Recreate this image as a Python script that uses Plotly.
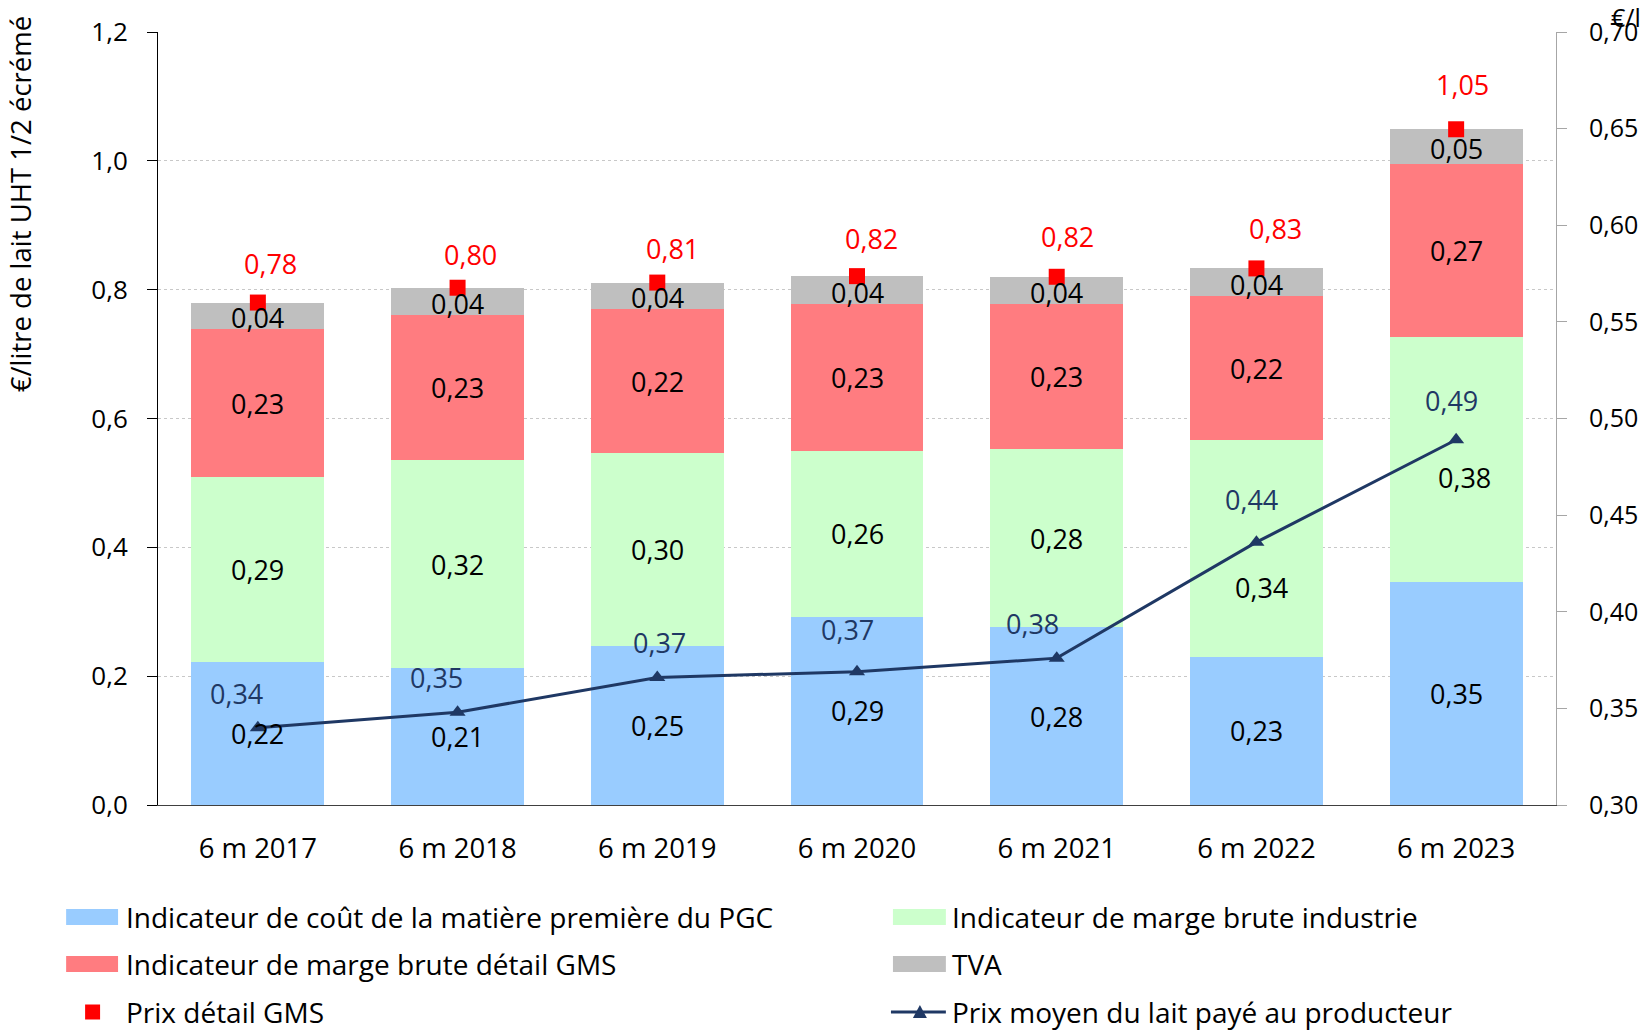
import plotly.graph_objects as go

# Periods (first six months of each year)
categories = ["6 m 2017", "6 m 2018", "6 m 2019", "6 m 2020", "6 m 2021", "6 m 2022", "6 m 2023"]

# Price decomposition, €/litre of semi-skimmed UHT milk
cout_matiere = [0.222, 0.213, 0.247, 0.292, 0.276, 0.230, 0.346]
marge_industrie = [0.287, 0.322, 0.299, 0.258, 0.276, 0.336, 0.380]
marge_gms = [0.230, 0.226, 0.224, 0.227, 0.226, 0.224, 0.269]
tva = [0.041, 0.042, 0.041, 0.044, 0.042, 0.043, 0.054]

# Average milk price paid to producers, €/l (right axis)
prix_producteur = [0.340, 0.348, 0.366, 0.369, 0.376, 0.436, 0.489]

left_ticks = [0.0, 0.2, 0.4, 0.6, 0.8, 1.0, 1.2]
right_ticks = [0.30, 0.35, 0.40, 0.45, 0.50, 0.55, 0.60, 0.65, 0.70]

# Retail price = sum of the components
prix_detail = [round(a + b + c + d, 3) for a, b, c, d in zip(cout_matiere, marge_industrie, marge_gms, tva)]

FONT = "Open Sans"
C_BLUE = "#99CCFF"
C_GREEN = "#CCFFCC"
C_RED = "#FF7C80"
C_GREY = "#BFBFBF"
C_NAVY = "#1F3864"
C_PRICE = "#FF0000"

W, H = 1650, 1031
ML, MR, MT, MB = 158, 92, 32, 226
PW, PH = W - ML - MR, H - MT - MB


def px_x(px):
    return (px - ML) / PW


def px_y(py):
    return (H - MB - py) / PH


def fmt(v, d=2):
    return f"{v:.{d}f}".replace(".", ",")


fig = go.Figure()

series = [
    ("Indicateur de coût de la matière première du PGC", cout_matiere, C_BLUE),
    ("Indicateur de marge brute industrie", marge_industrie, C_GREEN),
    ("Indicateur de marge brute détail GMS", marge_gms, C_RED),
    ("TVA", tva, C_GREY),
]
for name, vals, col in series:
    fig.add_trace(go.Bar(x=categories, y=vals, name=name, marker=dict(color=col, line=dict(width=0)),
                         showlegend=False, hoverinfo="skip"))

fig.add_trace(go.Scatter(x=categories, y=prix_detail, mode="markers", name="Prix détail GMS",
                         marker=dict(symbol="square", size=16, color=C_PRICE), showlegend=False))

fig.add_trace(go.Scatter(x=categories, y=prix_producteur, yaxis="y2", mode="lines+markers",
                         name="Prix moyen du lait payé au producteur",
                         line=dict(color=C_NAVY, width=3),
                         marker=dict(symbol="triangle-up", size=14, color=C_NAVY), showlegend=False))

annotations = []

# Segment value labels (centred in each segment, a few nudged to stay readable)
seg_shift = {(1, 5): (5, -39), (1, 6): (8, -18)}
base = [0.0] * len(categories)
for si, (name, vals, col) in enumerate(series):
    for i, v in enumerate(vals):
        dx, dy = seg_shift.get((si, i), (0, -2 if si == 3 else 0))
        annotations.append(dict(x=categories[i], y=base[i] + v / 2, xref="x", yref="y", text=fmt(v),
                                showarrow=False, xshift=dx, yshift=dy,
                                font=dict(family=FONT, size=27, color="#000000")))
        base[i] += v

# Retail price labels
tot_dx = [13, 13, 15, 14, 11, 19, 6]
tot_dy = [39, 33, 34, 38, 40, 40, 45]
for i, v in enumerate(prix_detail):
    annotations.append(dict(x=categories[i], y=v, xref="x", yref="y", text=fmt(v), showarrow=False,
                            xshift=tot_dx[i], yshift=tot_dy[i],
                            font=dict(family=FONT, size=27, color=C_PRICE)))

# Producer price labels
prod_dx = [-21, -21, 2, -10, -24, -5, -5]
prod_dy = [34, 35, 35, 42, 35, 43, 39]
for i, v in enumerate(prix_producteur):
    annotations.append(dict(x=categories[i], y=v, xref="x", yref="y2", text=fmt(v), showarrow=False,
                            xshift=prod_dx[i], yshift=prod_dy[i],
                            font=dict(family=FONT, size=27, color=C_NAVY)))

# Axis titles
annotations.append(dict(x=px_x(21), y=px_y(14), xref="paper", yref="paper", xanchor="center", yanchor="top",
                        text="€/litre de lait UHT 1/2 écrémé", textangle=-90, showarrow=False,
                        font=dict(family=FONT, size=27.5, color="#000000")))
annotations.append(dict(x=px_x(1628), y=px_y(17), xref="paper", yref="paper", xanchor="center", yanchor="middle",
                        text="€/l", showarrow=False, font=dict(family=FONT, size=25, color="#000000")))

# Custom legend
shapes = []
leg_rows = [917, 964, 1012]
col1_sw, col1_tx = (66, 118), 124
col2_sw, col2_tx = (894, 947), 951
leg_font = dict(family=FONT, size=28, color="#000000")


def swatch(x0, x1, yc, color):
    shapes.append(dict(type="rect", xref="paper", yref="paper", x0=px_x(x0), x1=px_x(x1),
                       y0=px_y(yc + 8), y1=px_y(yc - 8), fillcolor=color, line=dict(width=0)))


def leg_text(x, yc, text):
    annotations.append(dict(x=px_x(x), y=px_y(yc), xref="paper", yref="paper", xanchor="left",
                            yanchor="middle", text=text, showarrow=False, font=leg_font))


swatch(*col1_sw, leg_rows[0], C_BLUE)
leg_text(col1_tx, leg_rows[0], series[0][0])
swatch(*col2_sw, leg_rows[0], C_GREEN)
leg_text(col2_tx, leg_rows[0], series[1][0])
swatch(*col1_sw, leg_rows[1], C_RED)
leg_text(col1_tx, leg_rows[1], series[2][0])
swatch(*col2_sw, leg_rows[1], C_GREY)
leg_text(col2_tx, leg_rows[1], series[3][0])

# Square marker entry
shapes.append(dict(type="rect", xref="paper", yref="paper", x0=px_x(85), x1=px_x(100),
                   y0=px_y(1019.5), y1=px_y(1004.5), fillcolor=C_PRICE, line=dict(width=0)))
leg_text(col1_tx, leg_rows[2], "Prix détail GMS")

# Line + triangle entry
shapes.append(dict(type="line", xref="paper", yref="paper", x0=px_x(892), x1=px_x(947),
                   y0=px_y(leg_rows[2]), y1=px_y(leg_rows[2]), line=dict(color=C_NAVY, width=3)))
tx, ty = 921, leg_rows[2]
shapes.append(dict(type="path", xref="paper", yref="paper",
                   path=f"M {px_x(tx - 7)} {px_y(ty + 6)} L {px_x(tx + 7)} {px_y(ty + 6)} L {px_x(tx)} {px_y(ty - 7)} Z",
                   fillcolor=C_NAVY, line=dict(width=0)))
leg_text(col2_tx, leg_rows[2], "Prix moyen du lait payé au producteur")

fig.update_layout(
    width=W, height=H,
    margin=dict(l=ML, r=MR, t=MT, b=MB, pad=0),
    paper_bgcolor="white", plot_bgcolor="white",
    barmode="stack", bargap=0.335,
    separators=", ",
    font=dict(family=FONT, size=24, color="#000000"),
    showlegend=False,
    xaxis=dict(type="category", range=[-0.5, 6.5], showline=True, linecolor="#404040", linewidth=1,
               ticks="", showgrid=False, tickfont=dict(family=FONT, size=27.5, color="#000000"),
               ticklabelstandoff=19),
    yaxis=dict(range=[0, 1.2], tickvals=left_ticks, ticktext=[fmt(v, 1) for v in left_ticks],
               showline=True, linecolor="#000000", linewidth=1, ticks="outside", ticklen=10,
               tickcolor="#000000", showgrid=True, gridcolor="#C8C8C8", griddash="dot", gridwidth=1,
               zeroline=False, tickfont=dict(family=FONT, size=26, color="#000000"),
               ticklabelstandoff=14),
    yaxis2=dict(range=[0.30, 0.70], overlaying="y", side="right", tickvals=right_ticks,
                ticktext=[fmt(v) for v in right_ticks], showline=True, linecolor="#A6A6A6", linewidth=1,
                ticks="outside", ticklen=10, tickcolor="#A6A6A6", showgrid=False, zeroline=False,
                tickfont=dict(family=FONT, size=25, color="#000000"), ticklabelstandoff=17),
    annotations=annotations,
    shapes=shapes,
)

fig.write_html("out.html")
